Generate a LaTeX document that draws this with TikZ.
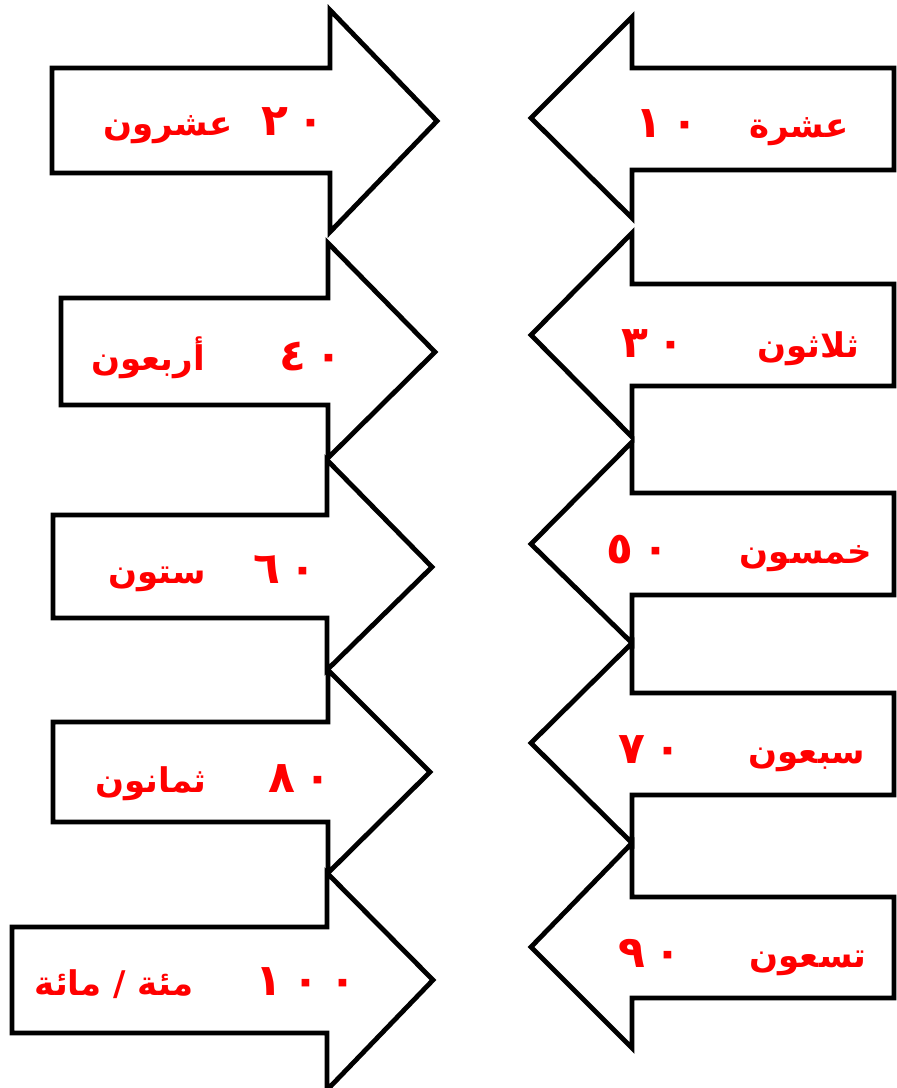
\documentclass[tikz,border=0pt]{standalone}
\usepackage{fontspec}
\newfontfamily\arabicfont[Script=Arabic]{DejaVu Sans}
\TeXXeTstate=1
\tikzset{
  arrowline/.style={draw=black,line width=2.4pt,line join=miter,fill=white},
  numlabel/.style={text=red,font=\arabicfont\bfseries\fontsize{22}{26}\selectfont,anchor=base,inner sep=0pt},
  wordlabel/.style={numlabel,font=\arabicfont\bfseries\fontsize{17}{20}\selectfont},
}
\begin{document}
\begin{tikzpicture}[x=0.5pt,y=-0.5pt]
\useasboundingbox (0,0) rectangle (897,1088);
% right column: arrows pointing left
\foreach \bt/\bb/\ht/\hb/\ty in {68/170/17/218/118,284/386/233/437/335,493/595/442/643/544,693/795/643/843/743,897/998/843/1048/947}{
  \draw[arrowline](894,\bt)--(632,\bt)--(632,\ht)--(531,\ty)--(632,\hb)--(632,\bb)--(894,\bb)--cycle;
}
% left column: arrows pointing right
\foreach \xl/\bt/\bb/\xh/\ht/\hb/\tx/\ty in {52/68/173/330/10/232/437/121,61/298/405/328/243/458/435/352,53/515/618/327/460/670/432/567,53/722/822/328/670/873/430/772,12/927/1033/327/873/1090/433/980}{
  \draw[arrowline](\xl,\bt)--(\xh,\bt)--(\xh,\ht)--(\tx,\ty)--(\xh,\hb)--(\xh,\bb)--(\xl,\bb)--cycle;
}
% labels
\node[numlabel](n10)at(667,137){١\kern5pt٠};
\node[wordlabel](w10)at(799,137){\beginR عشرة\endR};
\node[numlabel](n20)at(293,135){٢\kern5pt٠};
\node[wordlabel](w20)at(168,135){\beginR عشرون\endR};
\node[numlabel](n30)at(653,357){٣\kern5pt٠};
\node[wordlabel](w30)at(808,357){\beginR ثلاثون\endR};
\node[numlabel](n40)at(311,370){٤\kern5pt٠};
\node[wordlabel](w40)at(148,370){\beginR أربعون\endR};
\node[numlabel](n50)at(638,563){٥\kern5pt٠};
\node[wordlabel](w50)at(806,563){\beginR خمسون\endR};
\node[numlabel](n60)at(285,583){٦\kern5pt٠};
\node[wordlabel](w60)at(157,583){\beginR ستون\endR};
\node[numlabel](n70)at(650,763){٧\kern5pt٠};
\node[wordlabel](w70)at(807,763){\beginR سبعون\endR};
\node[numlabel](n80)at(300,792){٨\kern5pt٠};
\node[wordlabel](w80)at(151,792){\beginR ثمانون\endR};
\node[numlabel](n90)at(650,967){٩\kern5pt٠};
\node[wordlabel](w90)at(808,967){\beginR تسعون\endR};
\node[numlabel](n100)at(306,995){١\kern5pt٠\kern5pt٠};
\node[wordlabel](w100)at(114,995){\beginR مئة / مائة\endR};
\end{tikzpicture}
\end{document}
